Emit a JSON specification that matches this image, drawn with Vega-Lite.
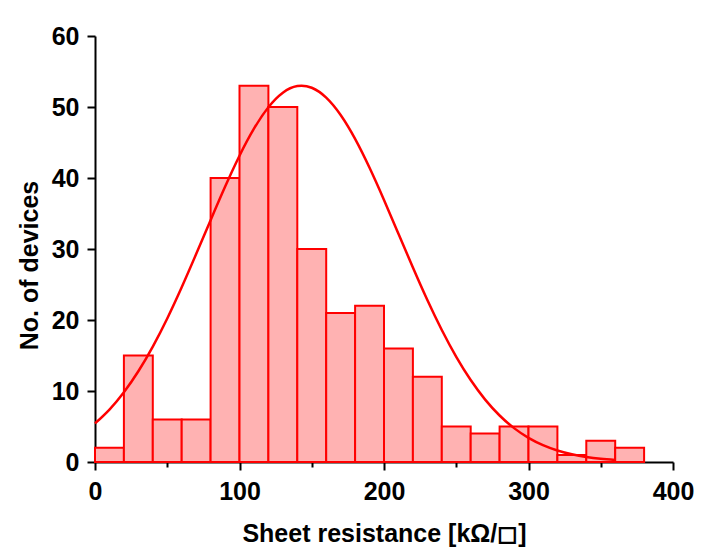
{
  "$schema": "https://vega.github.io/schema/vega-lite/v6.json",
  "width": 578,
  "height": 426,
  "autosize": {"type": "none"},
  "padding": {"left": 95, "top": 36, "right": 32, "bottom": 86},
  "background": "white",
  "config": {
    "view": {"stroke": null},
    "font": "Liberation Sans",
    "axis": {
      "grid": false,
      "domainColor": "black",
      "domainWidth": 2,
      "tickColor": "black",
      "tickWidth": 2,
      "labelColor": "black",
      "labelFont": "Liberation Sans",
      "labelFontSize": 25,
      "labelFontWeight": "bold",
      "labelFlush": false,
      "labelOverlap": false,
      "titleColor": "black",
      "titleFont": "Liberation Sans",
      "titleFontSize": 25,
      "titleFontWeight": "bold"
    }
  },
  "datasets": {
    "bins": [
      {"bin_start": 0, "bin_end": 20, "count": 2},
      {"bin_start": 20, "bin_end": 40, "count": 15},
      {"bin_start": 40, "bin_end": 60, "count": 6},
      {"bin_start": 60, "bin_end": 80, "count": 6},
      {"bin_start": 80, "bin_end": 100, "count": 40},
      {"bin_start": 100, "bin_end": 120, "count": 53},
      {"bin_start": 120, "bin_end": 140, "count": 50},
      {"bin_start": 140, "bin_end": 160, "count": 30},
      {"bin_start": 160, "bin_end": 180, "count": 21},
      {"bin_start": 180, "bin_end": 200, "count": 22},
      {"bin_start": 200, "bin_end": 220, "count": 16},
      {"bin_start": 220, "bin_end": 240, "count": 12},
      {"bin_start": 240, "bin_end": 260, "count": 5},
      {"bin_start": 260, "bin_end": 280, "count": 4},
      {"bin_start": 280, "bin_end": 300, "count": 5},
      {"bin_start": 300, "bin_end": 320, "count": 5},
      {"bin_start": 320, "bin_end": 340, "count": 1},
      {"bin_start": 340, "bin_end": 360, "count": 3},
      {"bin_start": 360, "bin_end": 380, "count": 2}
    ],
    "fit": [
      {"x": 0, "y": 5.43}, {"x": 10, "y": 7.39}, {"x": 20, "y": 9.83}, {"x": 30, "y": 12.78},
      {"x": 40, "y": 16.26}, {"x": 50, "y": 20.22}, {"x": 60, "y": 24.61}, {"x": 70, "y": 29.28},
      {"x": 80, "y": 34.06}, {"x": 90, "y": 38.76}, {"x": 100, "y": 43.14}, {"x": 110, "y": 46.95},
      {"x": 120, "y": 49.97}, {"x": 130, "y": 52.01}, {"x": 140, "y": 52.95}, {"x": 150, "y": 52.71},
      {"x": 160, "y": 51.32}, {"x": 170, "y": 48.87}, {"x": 180, "y": 45.51}, {"x": 190, "y": 41.44},
      {"x": 200, "y": 36.91}, {"x": 210, "y": 32.15}, {"x": 220, "y": 27.39}, {"x": 230, "y": 22.81},
      {"x": 240, "y": 18.59}, {"x": 250, "y": 14.81}, {"x": 260, "y": 11.54}, {"x": 270, "y": 8.79},
      {"x": 280, "y": 6.55}, {"x": 290, "y": 4.77}, {"x": 300, "y": 3.40}, {"x": 310, "y": 2.37},
      {"x": 320, "y": 1.62}, {"x": 330, "y": 1.08}, {"x": 340, "y": 0.70}, {"x": 350, "y": 0.45},
      {"x": 360, "y": 0.28}
    ]
  },
  "layer": [
    {
      "data": {"name": "bins"},
      "mark": {"type": "rect", "fill": "#ffb2b2", "stroke": "#ff0000", "strokeWidth": 2},
      "encoding": {
        "x": {
          "field": "bin_start", "type": "quantitative",
          "scale": {"domain": [0, 400], "nice": false},
          "axis": {
            "title": "Sheet resistance [kΩ/◻]",
            "values": [0, 50, 100, 150, 200, 250, 300, 350, 400],
            "labelExpr": "datum.value % 100 === 0 ? datum.label : ''",
            "tickSize": {"condition": {"test": "datum.value % 100 === 0", "value": 8}, "value": 5},
            "labelPadding": 9,
            "titleY": 79,
            "titleBaseline": "alphabetic"
          }
        },
        "x2": {"field": "bin_end"},
        "y": {
          "field": "count", "type": "quantitative",
          "scale": {"domain": [0, 60], "nice": false},
          "axis": {
            "title": "No. of devices",
            "values": [0, 5, 10, 15, 20, 25, 30, 35, 40, 45, 50, 55, 60],
            "labelExpr": "datum.value % 10 === 0 ? datum.label : ''",
            "tickSize": {"condition": {"test": "datum.value % 10 === 0", "value": 8}, "value": 5},
            "labelPadding": 8,
            "titleX": -58,
            "titleY": 229,
            "titleBaseline": "alphabetic",
            "titleAngle": -90
          }
        },
        "y2": {"datum": 0}
      }
    },
    {
      "data": {"name": "fit"},
      "mark": {"type": "line", "color": "#ff0000", "strokeWidth": 2.5, "interpolate": "natural"},
      "encoding": {
        "x": {"field": "x", "type": "quantitative"},
        "y": {"field": "y", "type": "quantitative"}
      }
    }
  ]
}
